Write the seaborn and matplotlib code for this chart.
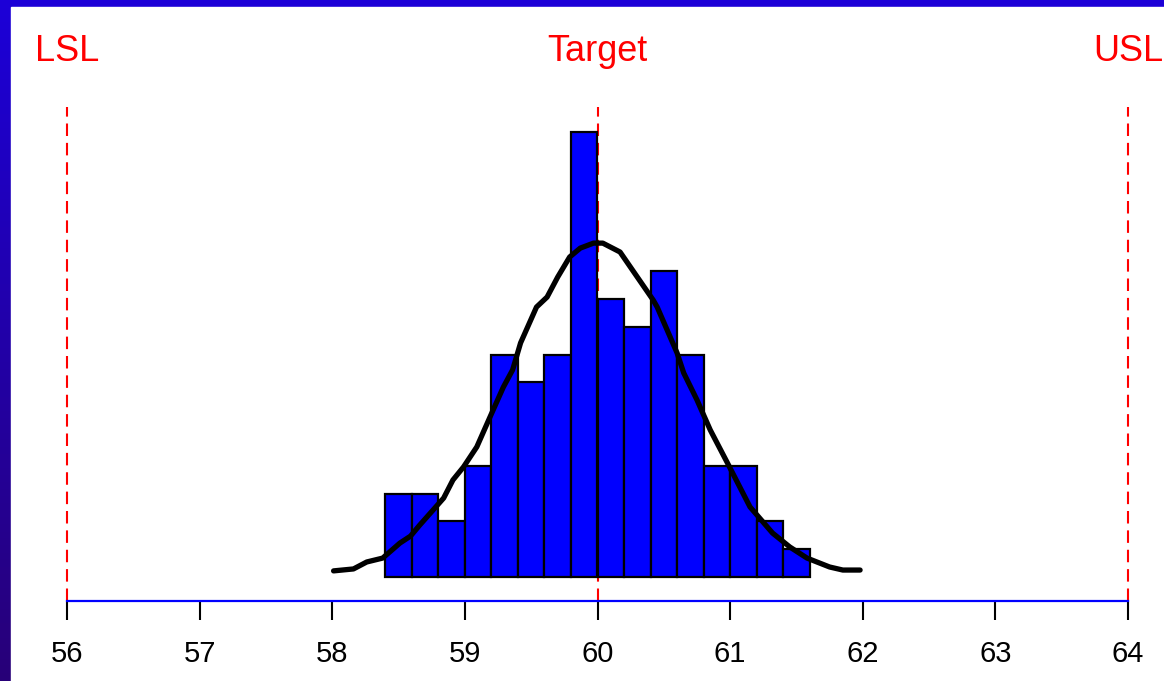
import numpy as np
import pandas as pd
import matplotlib
matplotlib.use('Agg')
import matplotlib.pyplot as plt
import seaborn as sns

# 히스토그램 (구간 폭 0.2) 도수
bin_centers = [58.5, 58.7, 58.9, 59.1, 59.3, 59.5, 59.7, 59.9,
               60.1, 60.3, 60.5, 60.7, 60.9, 61.1, 61.3, 61.5]
counts = [3, 3, 2, 4, 8, 7, 8, 16, 10, 9, 11, 8, 4, 4, 2, 1]
bin_edges = [58.4, 58.6, 58.8, 59.0, 59.2, 59.4, 59.6, 59.8, 60.0,
             60.2, 60.4, 60.6, 60.8, 61.0, 61.2, 61.4, 61.6]

# 밀도 곡선 (그림에서 읽은 값, 도수 단위)
curve_x = [58.01, 58.16, 58.26, 58.38, 58.45, 58.51, 58.59, 58.66, 58.74,
           58.84, 58.91, 58.99, 59.09, 59.19, 59.29, 59.36, 59.42, 59.54,
           59.62, 59.70, 59.79, 59.87, 59.97, 60.04, 60.17, 60.30, 60.42,
           60.45, 60.60, 60.65, 60.75, 60.85, 60.98, 61.15, 61.32, 61.45,
           61.58, 61.75, 61.85, 61.98]
curve_y = [0.22, 0.29, 0.54, 0.68, 0.97, 1.22, 1.47, 1.87, 2.30,
           2.84, 3.49, 3.96, 4.68, 5.76, 6.83, 7.45, 8.42, 9.71,
           10.07, 10.79, 11.51, 11.83, 12.01, 12.01, 11.69, 10.79, 9.96,
           9.71, 8.06, 7.34, 6.37, 5.29, 4.10, 2.52, 1.58, 1.08,
           0.68, 0.36, 0.25, 0.25]

spec_values = [56, 60, 64]
spec_labels = ['LSL', 'Target', 'USL']
x_ticks = [56, 57, 58, 59, 60, 61, 62, 63, 64]

sns.set_theme(style='white')
plt.rcParams['font.family'] = ['Liberation Sans', 'DejaVu Sans']

W, H = 1164, 681
fig = plt.figure(figsize=(W / 100, H / 100), dpi=100)

# 배경: 왼쪽/위 테두리 그라데이션
bg = fig.add_axes([0, 0, 1, 1])
grad = np.linspace(0, 1, 256).reshape(-1, 1)
cmap = matplotlib.colors.LinearSegmentedColormap.from_list('bg', ['#1c00d8', '#280078'])
bg.imshow(grad, aspect='auto', cmap=cmap, extent=[0, 1, 0, 1], origin='upper')
bg.add_patch(plt.Rectangle((11 / W, 0), 1, (H - 7) / H, color='white'))
bg.set_xlim(0, 1)
bg.set_ylim(0, 1)
bg.axis('off')

# 메인 축
unit = 27.8
ax_h = 494
ax = fig.add_axes([67 / W, (H - 601) / H, 1061 / W, ax_h / H])
ax.patch.set_alpha(0)

for v in spec_values:
    ax.axvline(v, color='red', lw=1.5, dashes=(6, 3.3), zorder=1, clip_on=False)

sns.histplot(x=bin_centers, weights=counts, bins=bin_edges, color='#0000ff',
             edgecolor='black', linewidth=1.6, alpha=1, ax=ax, zorder=2)
sns.lineplot(x=curve_x, y=curve_y, color='black', lw=3.8, sort=False, ax=ax, zorder=3)

for v, lab in zip(spec_values, spec_labels):
    ax.text(v, (601 - 61) / ax_h, lab, transform=ax.get_xaxis_transform(),
            ha='center', va='baseline', color='red', fontsize=26, clip_on=False)

ymin = -24 / unit
ax.set_xlim(56, 64)
ax.set_ylim(ymin, ymin + ax_h / unit)

for s in ['top', 'left', 'right']:
    ax.spines[s].set_visible(False)
ax.spines['bottom'].set_color('#0000ff')
ax.spines['bottom'].set_linewidth(1.6)

ax.set_xticks(x_ticks)
ax.set_yticks([])
ax.tick_params(axis='x', bottom=True, length=14, width=1.5, color='black',
               labelcolor='black', labelsize=21, pad=14)
ax.set_xlabel('')
ax.set_ylabel('')

fig.savefig('out.png', dpi=100)
